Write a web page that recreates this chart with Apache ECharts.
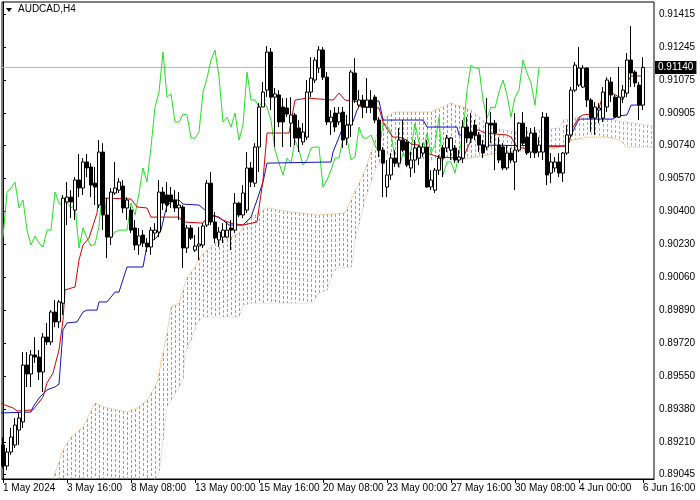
<!DOCTYPE html>
<html><head><meta charset="utf-8">
<script src="https://cdn.jsdelivr.net/npm/echarts@6/dist/echarts.min.js"></script>
<style>html,body{margin:0;padding:0;background:#fff}#c{width:700px;height:500px}</style>
</head><body><div id="c"></div>
<script>
const symbolTitle = 'AUDCAD,H4';
const xTickIndex = [0,16,32,48,64,80,96,112,128,144,160];
const xTickLabels = ['1 May 2024','3 May 16:00','8 May 08:00','13 May 00:00','15 May 16:00','20 May 08:00','23 May 00:00','27 May 16:00','30 May 08:00','4 Jun 00:00','6 Jun 16:00'];
const yTickLabels = [0.91415,0.91245,0.91075,0.90905,0.90740,0.90570,0.90400,0.90230,0.90060,0.89890,0.89720,0.89550,0.89380,0.89210,0.89045];
const lastPrice = 0.91140;
const chikouShift = 26;

const opens = [0.89195,0.89087,0.89159,0.89195,0.89272,0.89314,0.89607,0.89561,0.89659,0.89648,
0.89571,0.89751,0.89726,0.89880,0.89829,0.89926,0.90447,0.90472,0.90405,0.90560,
0.90519,0.90653,0.90627,0.90544,0.90431,0.90704,0.90380,0.90266,0.90493,0.90508,
0.90529,0.90416,0.90405,0.90313,0.90225,0.90277,0.90235,0.90215,0.90287,0.90292,
0.90498,0.90483,0.90483,0.90457,0.90416,0.90421,0.90210,0.90313,0.90199,0.90220,
0.90225,0.90328,0.90544,0.90344,0.90251,0.90266,0.90266,0.90313,0.90302,0.90441,
0.90380,0.90405,0.90622,0.90544,0.90730,0.90936,0.91023,0.91219,0.90987,0.90998,
0.90936,0.90931,0.90853,0.90895,0.90828,0.90756,0.90781,0.91013,0.91075,0.91137,
0.91230,0.91090,0.90859,0.90905,0.90859,0.90910,0.90776,0.90843,0.91111,0.90946,
0.90972,0.90936,0.90972,0.90987,0.90869,0.90714,0.90524,0.90586,0.90673,0.90647,
0.90766,0.90756,0.90622,0.90663,0.90673,0.90699,0.90730,0.90524,0.90508,0.90611,
0.90725,0.90725,0.90714,0.90725,0.90663,0.90673,0.90833,0.90807,0.90843,0.90792,
0.90740,0.90730,0.90853,0.90853,0.90740,0.90730,0.90622,0.90699,0.90653,0.90714,
0.90853,0.90781,0.90704,0.90802,0.90704,0.90704,0.90884,0.90596,0.90622,0.90653,
0.90596,0.90699,0.90792,0.91023,0.91049,0.91039,0.91137,0.90972,0.90879,0.90920,
0.90879,0.90936,0.91065,0.90987,0.90884,0.90987,0.91008,0.91178,0.91116,0.91049,
0.90946];
const closes = [0.89087,0.89159,0.89236,0.89298,0.89334,0.89607,0.89561,0.89659,0.89648,0.89571,
0.89751,0.89726,0.89880,0.89829,0.89932,0.90467,0.90472,0.90447,0.90560,0.90519,
0.90653,0.90622,0.90534,0.90524,0.90704,0.90380,0.90266,0.90498,0.90519,0.90550,
0.90416,0.90457,0.90302,0.90225,0.90272,0.90235,0.90215,0.90302,0.90302,0.90498,
0.90441,0.90431,0.90447,0.90416,0.90431,0.90210,0.90313,0.90261,0.90220,0.90230,
0.90323,0.90544,0.90344,0.90261,0.90292,0.90302,0.90302,0.90302,0.90441,0.90380,
0.90493,0.90622,0.90550,0.90730,0.90936,0.91013,0.91219,0.90987,0.91003,0.90859,
0.90859,0.90900,0.90895,0.90776,0.90776,0.90807,0.91013,0.91085,0.91178,0.91230,
0.91090,0.90859,0.90884,0.90833,0.90905,0.90766,0.90843,0.91116,0.90972,0.90972,
0.90936,0.90972,0.90936,0.90869,0.90714,0.90647,0.90586,0.90673,0.90647,0.90766,
0.90714,0.90637,0.90663,0.90725,0.90730,0.90730,0.90524,0.90560,0.90611,0.90673,
0.90673,0.90776,0.90776,0.90663,0.90678,0.90833,0.90776,0.90776,0.90792,0.90740,
0.90699,0.90853,0.90843,0.90802,0.90663,0.90622,0.90699,0.90663,0.90714,0.90853,
0.90750,0.90699,0.90802,0.90699,0.90740,0.90884,0.90586,0.90653,0.90653,0.90596,
0.90699,0.90792,0.91023,0.91152,0.91137,0.91137,0.90972,0.90879,0.90936,0.90931,
0.91013,0.91075,0.90998,0.90884,0.90987,0.91023,0.91178,0.91111,0.91060,0.90946,
0.91140];
const lows = [0.89077,0.89066,0.89144,0.89180,0.89195,0.89283,0.89494,0.89494,0.89618,0.89530,
0.89468,0.89710,0.89710,0.89803,0.89798,0.89865,0.90328,0.90364,0.90354,0.90472,
0.90483,0.90575,0.90472,0.90431,0.90416,0.90302,0.90158,0.90225,0.90483,0.90493,
0.90390,0.90354,0.90287,0.90199,0.90174,0.90215,0.90189,0.90174,0.90251,0.90266,
0.90405,0.90395,0.90416,0.90395,0.90354,0.90107,0.90184,0.90251,0.90189,0.90148,
0.90210,0.90318,0.90328,0.90235,0.90215,0.90235,0.90261,0.90199,0.90287,0.90369,
0.90364,0.90390,0.90524,0.90524,0.90601,0.90936,0.90987,0.90920,0.90730,0.90833,
0.90730,0.90884,0.90730,0.90740,0.90704,0.90740,0.90766,0.90987,0.91060,0.91111,
0.91075,0.90843,0.90792,0.90807,0.90843,0.90725,0.90740,0.90781,0.90956,0.90936,
0.90879,0.90905,0.90905,0.90853,0.90678,0.90472,0.90472,0.90560,0.90627,0.90627,
0.90704,0.90627,0.90575,0.90596,0.90637,0.90678,0.90519,0.90508,0.90493,0.90586,
0.90575,0.90704,0.90663,0.90647,0.90647,0.90647,0.90750,0.90750,0.90766,0.90704,
0.90673,0.90714,0.90750,0.90611,0.90647,0.90611,0.90611,0.90647,0.90508,0.90704,
0.90740,0.90689,0.90673,0.90673,0.90678,0.90663,0.90534,0.90544,0.90601,0.90575,
0.90550,0.90689,0.90781,0.91013,0.91039,0.91034,0.90936,0.90807,0.90792,0.90853,
0.90859,0.90910,0.90962,0.90879,0.90879,0.90956,0.90987,0.91039,0.91039,0.90869,
0.90920];
const highs = [0.89236,0.89180,0.89283,0.89334,0.89360,0.89674,0.89674,0.89684,0.89751,0.89684,
0.89772,0.89824,0.89890,0.89942,0.89942,0.90483,0.90550,0.90508,0.90575,0.90694,
0.90673,0.90694,0.90647,0.90627,0.90766,0.90750,0.90467,0.90519,0.90653,0.90570,
0.90560,0.90472,0.90421,0.90354,0.90313,0.90302,0.90261,0.90318,0.90338,0.90560,
0.90524,0.90550,0.90524,0.90508,0.90498,0.90431,0.90328,0.90328,0.90277,0.90318,
0.90338,0.90560,0.90601,0.90395,0.90318,0.90338,0.90344,0.90354,0.90493,0.90447,
0.90534,0.90704,0.90653,0.90750,0.90956,0.91065,0.91250,0.91240,0.91034,0.91023,
0.90982,0.90982,0.90987,0.90905,0.90869,0.90853,0.91075,0.91193,0.91193,0.91250,
0.91245,0.91116,0.90920,0.90936,0.90936,0.90936,0.90895,0.91126,0.91188,0.91023,
0.90998,0.91085,0.91023,0.90998,0.90884,0.90730,0.90663,0.90699,0.90714,0.90828,
0.90869,0.90766,0.90704,0.90766,0.90740,0.90750,0.90766,0.90611,0.90622,0.90689,
0.90740,0.90792,0.90781,0.90740,0.90714,0.90869,0.90884,0.90905,0.90869,0.90807,
0.90766,0.90982,0.90910,0.90869,0.90781,0.90750,0.90740,0.90725,0.90905,0.90859,
0.90910,0.90833,0.90828,0.90833,0.90781,0.90910,0.90905,0.90699,0.90678,0.90699,
0.90704,0.90843,0.91039,0.91168,0.91245,0.91152,0.91142,0.90982,0.90962,0.90956,
0.91039,0.91090,0.91090,0.90998,0.91142,0.91049,0.91214,0.91353,0.91126,0.91065,
0.91193];

// Ichimoku lines, vertices [bar index, price]
const tenkan = [[-1,0.89412],[2.5,0.89386],[3.5,0.89370],[7.5,0.89376],[10,0.89442],[11,0.89515],[12.5,0.89566],[14,0.89685],[15,0.89839],[15.5,0.89994],[16,0.90004],[18,0.90009],[19,0.90148],[20,0.90225],[21.5,0.90261],[23.5,0.90390],[24,0.90483],[25.5,0.90467],[32,0.90462],[33.5,0.90421],[36,0.90416],[37,0.90369],[44,0.90369],[45,0.90344],[50,0.90338],[51,0.90369],[53,0.90375],[55,0.90354],[57,0.90338],[60,0.90328],[63.5,0.90344],[65,0.90560],[66,0.90802],[71.5,0.90802],[73,0.90972],[76,0.90982],[82.5,0.90972],[84,0.91008],[85.5,0.90972],[89,0.90962],[89.5,0.90936],[94,0.90931],[95,0.90859],[96,0.90823],[97.5,0.90781],[99,0.90781],[101,0.90766],[102,0.90745],[104,0.90740],[104.5,0.90714],[106,0.90699],[109,0.90678],[115,0.90673],[117,0.90766],[118,0.90817],[119,0.90817],[120.5,0.90802],[126,0.90792],[127,0.90781],[128.5,0.90730],[133,0.90714],[136,0.90730],[140.5,0.90735],[141.5,0.90750],[142.5,0.90833],[144,0.90884],[145,0.90895],[147,0.90900],[148.5,0.90884],[149,0.90931],[150,0.90998],[152,0.91013],[154,0.90987],[155,0.90972],[156,0.91060],[157,0.91096],[160,0.91096]];
const kijun = [[-1,0.89360],[7,0.89365],[7.5,0.89391],[9,0.89437],[11,0.89479],[13,0.89494],[14,0.89509],[15,0.89788],[16,0.89824],[18.5,0.89829],[20,0.89880],[21,0.89890],[23.5,0.89890],[24,0.89932],[26,0.89932],[28,0.89983],[29,0.89983],[31,0.90112],[35,0.90112],[36,0.90225],[38.5,0.90266],[39.5,0.90302],[40.5,0.90390],[41,0.90426],[42.5,0.90457],[44,0.90457],[45,0.90436],[49,0.90431],[50.5,0.90405],[52,0.90380],[54,0.90369],[56.5,0.90328],[60,0.90328],[62,0.90369],[63.5,0.90457],[65,0.90550],[66,0.90647],[82,0.90653],[82.5,0.90704],[84,0.90781],[85,0.90833],[86,0.90843],[87.5,0.90859],[88.5,0.90920],[89.5,0.90956],[90.5,0.90967],[94,0.90967],[95,0.90869],[105,0.90869],[106,0.90833],[113.5,0.90833],[114,0.90792],[118.5,0.90792],[119.5,0.90740],[140.5,0.90735],[141.5,0.90766],[143,0.90833],[144,0.90874],[152.5,0.90874],[153.5,0.90890],[156,0.90895],[157,0.90946],[160,0.90946]];
const cloudTop = [[12,0.88989],[15,0.89170],[17,0.89236],[20,0.89288],[23,0.89412],[25,0.89391],[28.5,0.89376],[31,0.89365],[33.5,0.89386],[36,0.89427],[38.5,0.89515],[41,0.89772],[42,0.89906],[44,0.89926],[46,0.90060],[48,0.90112],[49,0.90158],[51,0.90199],[53,0.90235],[57,0.90266],[59,0.90287],[62,0.90369],[66,0.90416],[72,0.90395],[79,0.90380],[85.5,0.90390],[87,0.90457],[90.5,0.90611],[93,0.90766],[95,0.90879],[98,0.90910],[107,0.90910],[112,0.90956],[117,0.90920],[120.5,0.90859],[122.5,0.90828],[128.5,0.90807],[139,0.90828],[140,0.90869],[143,0.90879],[147.5,0.90884],[162.5,0.90838]];
const cloudBottom = [[12,0.88900],[37,0.88989],[39,0.89051],[41,0.89391],[42.5,0.89442],[45,0.89530],[45.5,0.89669],[47,0.89736],[48.5,0.89824],[50,0.89854],[59,0.89854],[60,0.89916],[62,0.89926],[77.5,0.89926],[79,0.89978],[81,0.89994],[82.5,0.90081],[83.5,0.90107],[87,0.90112],[87.5,0.90163],[88,0.90251],[90.5,0.90457],[93,0.90611],[95.5,0.90689],[99,0.90689],[107,0.90663],[114,0.90663],[125,0.90704],[136,0.90714],[139,0.90730],[142.5,0.90766],[146,0.90781],[151,0.90781],[154,0.90766],[156,0.90730],[162.5,0.90730]];
const cloudSplit = 117;

const chikou = closes.slice(chikouShift).map((v, i) => [i, v]);
const candles = opens.map((o, i) => [i, o, closes[i], lows[i], highs[i]]);

function leftPart(arr, s){ const out=[]; for(const p of arr){ out.push(p); if(p[0]>=s) break; } return out; }
function rightPart(arr, s){ let k=0; while(k<arr.length-1 && arr[k+1][0]<=s) k++; return arr.slice(k); }
function valAt(arr, k){
  for (let j = 0; j < arr.length - 1; j++) {
    const a = arr[j], b = arr[j+1];
    if (k >= a[0] && k <= b[0]) return a[1] + (k - a[0]) / (b[0] - a[0]) * (b[1] - a[1]);
  }
  return null;
}
const SANDY = '#F4A460', THISTLE = '#D8BFD8';
const HATCH_SANDY = '#EC8A40', HATCH_THISTLE = '#CFA0C6';
function lineSeries(data, color, type, z){
  return {type:'line', data, symbol:'none', silent:true, clip:true, z: z||3, color: color,
    lineStyle:{color, width:1, type: type||'solid'}};
}
const FONT = 'Liberation Sans';
const priceLine = {type:'line', data:[[-0.25,lastPrice],[162.75,lastPrice]], symbol:'none', silent:true, clip:true, z:2,
  lineStyle:{color:'#b4b4b4', width:1},
  endLabel:{show:true, distance:1, formatter: () => lastPrice.toFixed(5), backgroundColor:'#000', color:'#fff',
    fontFamily:FONT, fontSize:10, padding:[2,3,1,3]}};
const titleGraphics = [
  {type:'polygon', shape:{points:[[6,8],[12,8],[9,12]]}, style:{fill:'#000'}},
  {type:'text', left:18, top:4, style:{text:symbolTitle, font:'10px "Liberation Sans"', fill:'#000'}}
];
const chart = echarts.init(document.getElementById('c'), null, {renderer:'canvas'});
chart.setOption({
  animation:false, backgroundColor:'#fff',
  grid:{left:2, right:46, top:2, bottom:21, show:true, borderColor:'#000', borderWidth:1},
  xAxis:{type:'value', min:-0.25, max:162.75,
    axisLine:{show:true, lineStyle:{color:'#000'}}, splitLine:{show:false},
    axisTick:{show:true, length:4, lineStyle:{color:'#000'}, customValues:xTickIndex},
    axisLabel:{customValues:xTickIndex, color:'#000', fontFamily:FONT, fontSize:10, margin:4, align:'left',
      formatter: v => xTickLabels[Math.round(v/16)]}},
  yAxis:{type:'value', position:'right', min:0.89020, max:0.91477, scale:true,
    axisLine:{show:true, lineStyle:{color:'#000'}}, splitLine:{show:false},
    axisTick:{show:true, length:3, lineStyle:{color:'#000'}, customValues:yTickLabels},
    axisLabel:{customValues:yTickLabels, color:'#000', fontFamily:FONT, fontSize:10, margin:5,
      formatter: v => v.toFixed(5)}},
  graphic: titleGraphics,
  series:[
    lineSeries(leftPart(cloudTop, cloudSplit), SANDY, 'dotted', 2),
    lineSeries(rightPart(cloudTop, cloudSplit), THISTLE, 'dotted', 2),
    lineSeries(leftPart(cloudBottom, cloudSplit), THISTLE, 'dotted', 2),
    lineSeries(rightPart(cloudBottom, cloudSplit), SANDY, 'dotted', 2),
    priceLine,
    lineSeries(chikou, '#22e022', 'solid', 3),
    lineSeries(kijun, '#1010c8', 'solid', 4),
    lineSeries(tenkan, '#d00000', 'solid', 4),
    {type:'candlestick', data:candles, barWidth:3, z:5, silent:true,
      itemStyle:{color:'#fff', color0:'#000', borderColor:'#000', borderColor0:'#000', borderWidth:1}}
  ]
});

// Cloud hatch: one dotted vertical stroke per bar between the two cloud edges, placed through the axes' scales
const yMinPx = chart.convertToPixel({gridIndex:0}, [0, 0.91477])[1];
const yMaxPx = chart.convertToPixel({gridIndex:0}, [0, 0.89020])[1];
const xMaxPx = chart.convertToPixel({gridIndex:0}, [162.75, 0.9])[0];
const hatchChildren = [];
const k0 = Math.ceil(Math.max(cloudTop[0][0], cloudBottom[0][0]));
const k1 = Math.floor(Math.min(cloudTop[cloudTop.length-1][0], cloudBottom[cloudBottom.length-1][0]));
for (let k = k0; k <= k1; k++) {
  const t = valAt(cloudTop, k), b = valAt(cloudBottom, k);
  if (t == null || b == null) continue;
  const p1 = chart.convertToPixel({gridIndex:0}, [k, t]);
  const p2 = chart.convertToPixel({gridIndex:0}, [k, b]);
  const x = Math.round(p1[0]) + 0.5;
  if (x > xMaxPx) continue;
  const y1 = Math.max(yMinPx, Math.min(p1[1], p2[1]));
  const y2 = Math.min(yMaxPx, Math.max(p1[1], p2[1]));
  if (y2 <= y1) continue;
  hatchChildren.push({type:'line', silent:true, shape:{x1:x, y1:Math.round(y1), x2:x, y2:y2},
    style:{stroke: k <= cloudSplit ? HATCH_SANDY : HATCH_THISTLE, lineWidth:1, lineDash:[3,2]}});
}
chart.setOption({graphic: titleGraphics.concat([{type:'group', z:1, silent:true, children: hatchChildren}])});
</script></body></html>
